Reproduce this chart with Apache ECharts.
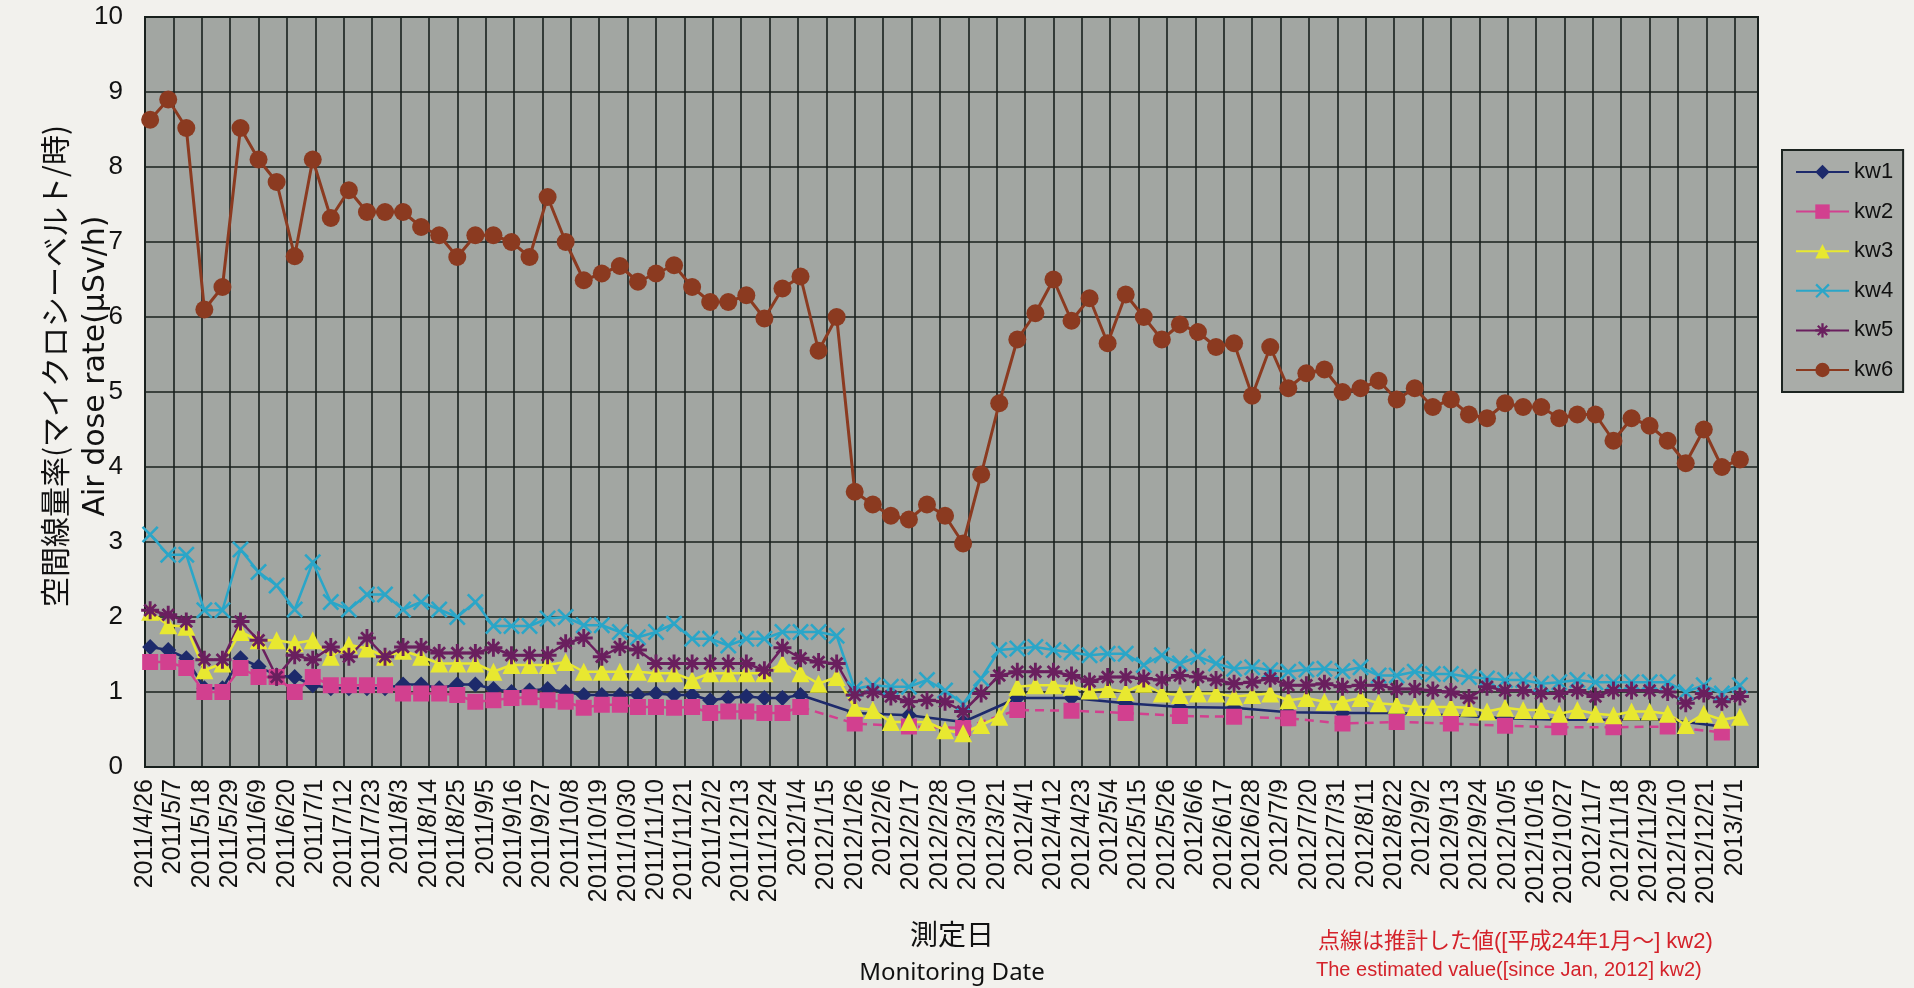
<!DOCTYPE html>
<html>
<head>
<meta charset="UTF-8">
<title>空間線量率</title>
<script src="https://cdn.jsdelivr.net/npm/echarts@6/dist/echarts.min.js"></script>
<style>
html, body { margin: 0; padding: 0; background: #f2f1ed; }
#main { width: 1914px; height: 988px; }
</style>
</head>
<body>
<div id="main"></div>
<script>
// weekly measurement dates
var dates = [
  '2011/4/28', '2011/5/5', '2011/5/12', '2011/5/19', '2011/5/26', '2011/6/2', '2011/6/9', '2011/6/16', '2011/6/23', '2011/6/30',
  '2011/7/7', '2011/7/14', '2011/7/21', '2011/7/28', '2011/8/4', '2011/8/11', '2011/8/18', '2011/8/25', '2011/9/1', '2011/9/8',
  '2011/9/15', '2011/9/22', '2011/9/29', '2011/10/6', '2011/10/13', '2011/10/20', '2011/10/27', '2011/11/3', '2011/11/10', '2011/11/17',
  '2011/11/24', '2011/12/1', '2011/12/8', '2011/12/15', '2011/12/22', '2011/12/29', '2012/1/5', '2012/1/12', '2012/1/19', '2012/1/26',
  '2012/2/2', '2012/2/9', '2012/2/16', '2012/2/23', '2012/3/1', '2012/3/8', '2012/3/15', '2012/3/22', '2012/3/29', '2012/4/5',
  '2012/4/12', '2012/4/19', '2012/4/26', '2012/5/3', '2012/5/10', '2012/5/17', '2012/5/24', '2012/5/31', '2012/6/7', '2012/6/14',
  '2012/6/21', '2012/6/28', '2012/7/5', '2012/7/12', '2012/7/19', '2012/7/26', '2012/8/2', '2012/8/9', '2012/8/16', '2012/8/23',
  '2012/8/30', '2012/9/6', '2012/9/13', '2012/9/20', '2012/9/27', '2012/10/4', '2012/10/11', '2012/10/18', '2012/10/25', '2012/11/1',
  '2012/11/8', '2012/11/15', '2012/11/22', '2012/11/29', '2012/12/6', '2012/12/13', '2012/12/20', '2012/12/27', '2013/1/3'
];

var kw1 = [
  1.6, 1.56, 1.45, 1.05, 1.05, 1.45, 1.34, 1.22, 1.2, 1.09,
  1.05, 1.05, 1.05, 1.05, 1.1, 1.1, 1.05, 1.1, 1.1, 1.04,
  1.0, 1.02, 1.04, 1.0, 0.96, 0.96, 0.96, 0.96, 0.98, 0.96,
  0.96, 0.89, 0.92, 0.94, 0.92, 0.92, 0.96, null, null, 0.72,
  null, null, 0.69, null, null, 0.6, null, null, 0.92, null,
  null, 0.92, null, null, 0.85, null, null, 0.8, null, null,
  0.79, null, null, 0.73, null, null, 0.72, null, null, 0.72,
  null, null, 0.69, null, null, 0.65, null, null, 0.63, null,
  null, 0.63, null, null, 0.63, null, null, 0.54, null
];
var kw2 = [
  1.4, 1.4, 1.32, 1.0, 1.0, 1.32, 1.2, 1.2, 1.0, 1.2,
  1.09, 1.09, 1.09, 1.09, 0.98, 0.98, 0.98, 0.96, 0.87, 0.89,
  0.92, 0.93, 0.89, 0.87, 0.79, 0.83, 0.83, 0.8, 0.8, 0.79,
  0.8, 0.72, 0.74, 0.74, 0.72, 0.72, 0.8, null, null, 0.58,
  null, null, 0.54, null, null, 0.52, null, null, 0.76, null,
  null, 0.75, null, null, 0.72, null, null, 0.68, null, null,
  0.67, null, null, 0.65, null, null, 0.58, null, null, 0.6,
  null, null, 0.58, null, null, 0.55, null, null, 0.53, null,
  null, 0.53, null, null, 0.54, null, null, 0.46, null
];
var kw3 = [
  2.07, 1.89, 1.87, 1.29, 1.38, 1.8, 1.69, 1.69, 1.65, 1.69,
  1.47, 1.63, 1.58, 1.47, 1.55, 1.47, 1.38, 1.38, 1.38, 1.27,
  1.36, 1.36, 1.36, 1.4, 1.27, 1.27, 1.27, 1.27, 1.25, 1.25,
  1.16, 1.25, 1.25, 1.25, 1.25, 1.38, 1.25, 1.11, 1.2, 0.79,
  0.76, 0.6, 0.6, 0.6, 0.49, 0.45, 0.56, 0.67, 1.07, 1.09,
  1.09, 1.07, 1.02, 1.04, 1.0, 1.11, 0.98, 0.96, 0.98, 0.98,
  0.94, 0.96, 0.98, 0.89, 0.92, 0.87, 0.87, 0.92, 0.85, 0.83,
  0.8, 0.8, 0.8, 0.79, 0.74, 0.79, 0.76, 0.76, 0.71, 0.76,
  0.71, 0.69, 0.74, 0.74, 0.71, 0.56, 0.71, 0.63, 0.67
];
var kw4 = [
  3.1, 2.83, 2.83, 2.09, 2.09, 2.9, 2.6, 2.42, 2.1, 2.73,
  2.2, 2.1, 2.3, 2.3, 2.1, 2.2, 2.1, 2.0, 2.2, 1.88,
  1.88, 1.88, 1.98, 2.0, 1.89, 1.89, 1.8, 1.73, 1.8, 1.91,
  1.71, 1.71, 1.62, 1.71, 1.71, 1.8, 1.8, 1.8, 1.75, 1.04,
  1.09, 1.07, 1.07, 1.16, 1.02, 0.84, 1.18, 1.56, 1.58, 1.6,
  1.56, 1.53, 1.49, 1.51, 1.51, 1.36, 1.49, 1.38, 1.47, 1.38,
  1.31, 1.33, 1.29, 1.27, 1.3, 1.31, 1.28, 1.33, 1.22, 1.22,
  1.27, 1.24, 1.24, 1.2, 1.18, 1.16, 1.16, 1.11, 1.13, 1.16,
  1.13, 1.13, 1.13, 1.13, 1.13, 1.0, 1.09, 0.98, 1.09
];
var kw5 = [
  2.09, 2.03, 1.94, 1.43, 1.43, 1.94, 1.69, 1.2, 1.49, 1.43,
  1.6, 1.47, 1.72, 1.47, 1.6, 1.6, 1.52, 1.52, 1.52, 1.59,
  1.49, 1.49, 1.49, 1.65, 1.72, 1.47, 1.6, 1.56, 1.38, 1.38,
  1.38, 1.38, 1.38, 1.38, 1.29, 1.59, 1.45, 1.4, 1.38, 0.96,
  1.0, 0.94, 0.87, 0.89, 0.87, 0.74, 0.98, 1.22, 1.27, 1.27,
  1.27, 1.22, 1.14, 1.2, 1.2, 1.18, 1.16, 1.22, 1.2, 1.16,
  1.11, 1.13, 1.18, 1.09, 1.09, 1.11, 1.07, 1.09, 1.09, 1.04,
  1.04, 1.02, 1.0, 0.92, 1.07, 1.02, 1.02, 0.98, 0.98, 1.02,
  0.94, 1.02, 1.02, 1.02, 1.0, 0.85, 0.98, 0.87, 0.94
];
var kw6 = [
  8.63, 8.9, 8.52, 6.1, 6.4, 8.52, 8.1, 7.8, 6.81, 8.1,
  7.32, 7.69, 7.4, 7.4, 7.4, 7.2, 7.09, 6.8, 7.09, 7.09,
  7.0, 6.8, 7.6, 7.0, 6.49, 6.58, 6.68, 6.47, 6.58, 6.69,
  6.4, 6.2, 6.2, 6.29, 5.98, 6.38, 6.54, 5.55, 6.0, 3.67,
  3.5, 3.35, 3.3, 3.5, 3.35, 2.98, 3.9, 4.85, 5.7, 6.05,
  6.5, 5.95, 6.25, 5.65, 6.3, 6.0, 5.7, 5.9, 5.8, 5.6,
  5.65, 4.95, 5.6, 5.05, 5.25, 5.3, 5.0, 5.05, 5.15, 4.9,
  5.05, 4.8, 4.9, 4.7, 4.65, 4.85, 4.8, 4.8, 4.65, 4.7,
  4.7, 4.35, 4.65, 4.55, 4.35, 4.05, 4.5, 4.0, 4.1
];
var seriesNames = ['kw1', 'kw2', 'kw3', 'kw4', 'kw5', 'kw6'];
var estimateFrom = 36; // kw2 estimated (dotted) from Jan 2012

var base = Date.UTC(2011, 3, 26);
var DAY = 86400000;
function dayOf(s) {
  var p = s.split('/');
  return Math.round((Date.UTC(+p[0], +p[1] - 1, +p[2]) - base) / DAY);
}
function dateLabel(v) {
  if (v % 11 !== 0) return '';
  var d = new Date(base + v * DAY);
  return d.getUTCFullYear() + '/' + (d.getUTCMonth() + 1) + '/' + d.getUTCDate();
}
function pts(arr, from, to) {
  var out = [];
  arr.forEach(function (v, i) {
    if (v === null || i < from || i > to) return;
    out.push([dayOf(dates[i]), v]);
  });
  return out;
}

var xMark = 'path://M0 11L11 0L100 89L89 100Z M89 0L100 11L11 100L0 89Z';
var starMark = 'path://M42 0L58 0L58 100L42 100Z M0 42L100 42L100 58L0 58Z M12 23L23 12L88 77L77 88Z M77 12L88 23L23 88L12 77Z';

function line(name, data, color, symbol, size, width, dash) {
  return {
    name: name, type: 'line', data: data,
    symbol: symbol, symbolSize: size,
    lineStyle: { color: color, width: width, type: dash ? [9, 6] : 'solid' },
    itemStyle: { color: color, borderWidth: 0 },
    emphasis: { disabled: true }
  };
}

var last = dates.length - 1;
var chart = echarts.init(document.getElementById('main'));
chart.setOption({
  animation: false,
  backgroundColor: '#f2f1ed',
  textStyle: { fontFamily: 'Liberation Sans' },
  grid: {
    left: 145, right: 156, top: 17, bottom: 221,
    show: true, backgroundColor: '#a2a6a2', borderColor: '#18201d', borderWidth: 2,
    outerBoundsMode: 'none'
  },
  legend: {
    data: seriesNames, orient: 'vertical', left: 1782, top: 150,
    backgroundColor: '#a9aca8', borderColor: '#1c2420', borderWidth: 2,
    padding: [11, 10, 11, 13], itemGap: 17.6, itemWidth: 53, itemHeight: 18,
    textStyle: { fontSize: 22, color: '#111', fontFamily: 'Liberation Sans' }
  },
  xAxis: {
    type: 'value', min: 0, max: 625, interval: 11,
    axisLine: { show: true, lineStyle: { color: '#18201d', width: 2 } },
    axisTick: { show: false },
    splitLine: { show: true, lineStyle: { color: '#18201d', width: 1.6 } },
    axisLabel: { rotate: 90, formatter: dateLabel, fontSize: 25, margin: 12, color: '#111' }
  },
  yAxis: {
    type: 'value', min: 0, max: 10, interval: 1,
    axisLine: { show: true, lineStyle: { color: '#18201d', width: 2 } },
    axisTick: { show: false },
    splitLine: { show: true, lineStyle: { color: '#18201d', width: 1.6 } },
    axisLabel: { fontSize: 26, margin: 22, color: '#111' }
  },
  series: [
    line('kw1', pts(kw1, 0, last), '#1d2a6b', 'diamond', 16, 2.5),
    line('kw2', pts(kw2, 0, estimateFrom), '#d2408f', 'rect', 16, 2.5),
    line('kw2', pts(kw2, estimateFrom, last), '#d2408f', 'rect', 16, 2.5, true),
    line('kw3', pts(kw3, 0, last), '#e8e830', 'triangle', 18, 2.5),
    line('kw4', pts(kw4, 0, last), '#2aa6c8', xMark, 17, 2.5),
    line('kw5', pts(kw5, 0, last), '#6a1f5e', starMark, 18, 2.5),
    line('kw6', pts(kw6, 0, last), '#8b3a20', 'circle', 18, 3)
  ],
  graphic: [
    { type: 'text', x: 55, y: 366, rotation: Math.PI / 2,
      style: { text: '空間線量率(マイクロシーベルト/時)', font: '30px "Noto Sans CJK JP"', fill: '#111', textAlign: 'center', textVerticalAlign: 'middle', verticalAlign: 'middle' } },
    { type: 'text', x: 96, y: 366, rotation: Math.PI / 2,
      style: { text: 'Air dose rate(μSv/h)', font: '30px "DejaVu Sans"', fill: '#111', textAlign: 'center', textVerticalAlign: 'middle', verticalAlign: 'middle' } },
    { type: 'text', x: 952, y: 934,
      style: { text: '測定日', font: '28px "Noto Sans CJK JP"', fill: '#111', textAlign: 'center', textVerticalAlign: 'middle', verticalAlign: 'middle' } },
    { type: 'text', x: 952, y: 973,
      style: { text: 'Monitoring Date', font: '24px "Noto Sans"', fill: '#111', textAlign: 'center', textVerticalAlign: 'middle', verticalAlign: 'middle' } },
    { type: 'text', x: 1318, y: 942,
      style: { text: '点線は推計した値([平成24年1月～] kw2)', font: '22px "Liberation Sans", "Noto Sans CJK JP"', fill: '#d4222a', textAlign: 'left', textVerticalAlign: 'middle', verticalAlign: 'middle' } },
    { type: 'text', x: 1316, y: 970,
      style: { text: 'The estimated value([since Jan, 2012] kw2)', font: '20px "Liberation Sans"', fill: '#d4222a', textAlign: 'left', textVerticalAlign: 'middle', verticalAlign: 'middle' } }
  ]
});
</script>
</body>
</html>
